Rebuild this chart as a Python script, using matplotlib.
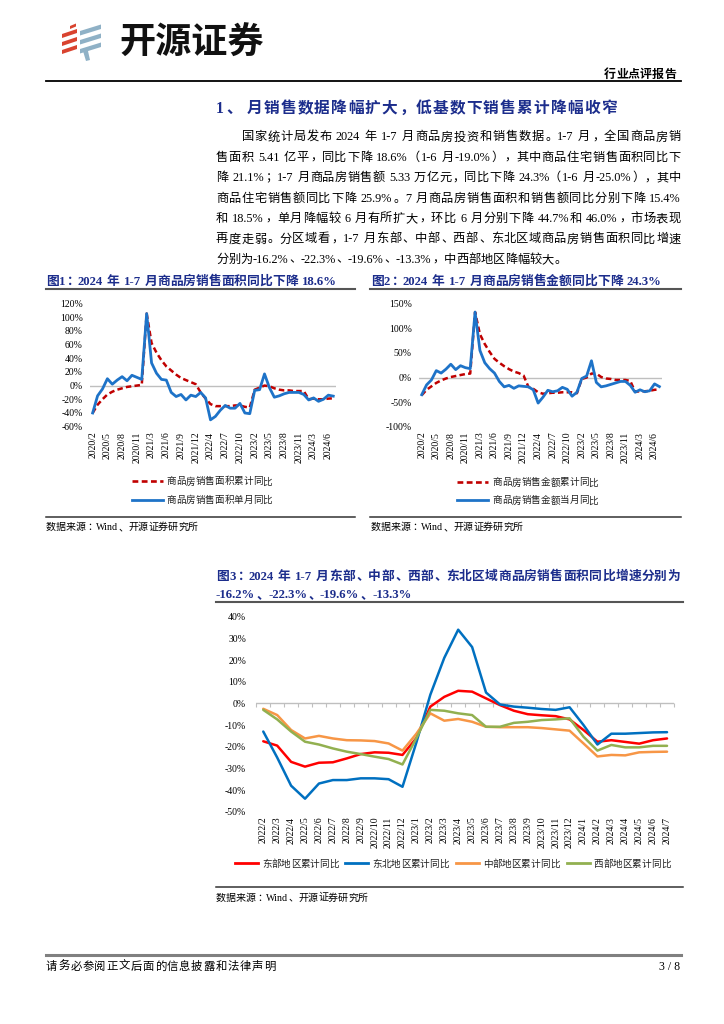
import re
import matplotlib
matplotlib.use('Agg')
import matplotlib.pyplot as plt
from matplotlib.lines import Line2D
from matplotlib.patches import Polygon

FAM = ['Liberation Serif', 'Noto Sans CJK SC']
plt.rcParams['font.family'] = FAM
NAVY = '#1c2d8c'
W, H = 724, 1024

# ---- data -------------------------------------------------------------
months1 = [f'{y}/{m}' for y in range(2020, 2025) for m in range(2, 13)][:50]

area_cum = [-40, -28, -20, -13, -9, -6, -4, -2, -1, 0, 1,
            105, 62, 48, 37, 28, 22, 16, 11, 8, 5, 2,
            -10, -19, -27, -30, -30, -30, -30, -29, -29, -31, -32,
            -6, -3, 0, -1, -4, -6, -7, -7, -8, -8, -8,
            -20, -19, -20, -20, -19, -18.6]
area_month = [-40, -15, -5, 10, 2, 8, 13, 7, 15, 12, 9,
              105, 33, 18, 9, 8, -10, -16, -13, -21, -14, -16,
              -10, -18, -50, -45, -36, -29, -33, -33, -26, -40, -41,
              -7, -6, 17, -3, -17, -15, -12, -10, -10, -10, -13,
              -21, -18, -23, -20, -14, -15.4]

value_cum = [-36, -25, -18, -11, -6, -2, 1, 3, 5, 7, 8,
             133, 88, 68, 52, 38, 30, 23, 17, 12, 9, 4,
             -19, -23, -30, -33, -32, -31, -31, -30, -30, -30, -32,
             -3, 0, 8, 8, 1, -2, -3, -5, -5, -5, -7,
             -29, -28, -28, -27, -25, -24.3]
value_month = [-35, -15, -5, 14, 9, 17, 27, 16, 24, 20, 18,
               133, 55, 30, 18, 9, -8, -19, -16, -22, -17, -18,
               -19, -25, -52, -40, -26, -29, -27, -20, -24, -38, -30,
               -2, 3, 34, -10, -19, -17, -14, -11, -8, -8, -16,
               -30, -25, -29, -27, -13, -18.5]

months3 = [f'{y}/{m}' for y in range(2022, 2025) for m in range(1, 13)][1:31]
east = [-17.5, -19.5, -27, -29.2, -27.4, -27.2, -25.4, -23.4, -22.6, -22.8,
        -23.8, -16, -1.5, 3, 5.8, 5.4, 2.3, -0.8, -3.4, -5,
        -5.5, -5.9, -7.4, -12.3, -17.7, -17, -17.8, -18.6, -17, -16.2]
northeast = [-13, -25, -38, -44, -37, -35.4, -35.4, -34.6, -34.6, -35,
             -38.5, -18, 4, 21, 34, 26, 5, -0.5, -1.5, -2,
             -2.6, -3, -1.8, -10, -19, -14, -14, -13.7, -13.4, -13.3]
central = [-2.5, -5.4, -12.3, -16.2, -15, -16.2, -17, -17.1, -17.4, -18.5,
           -21.8, -14, -4.6, -8, -7.2, -8.5, -10.8, -11, -11, -11,
           -11.4, -12, -12.6, -18.5, -24.5, -23.8, -24, -22.6, -22.4, -22.3]
west = [-3, -7.4, -13, -17.7, -19, -20.8, -22.3, -23.4, -24.6, -25.7,
        -28.2, -16, -3, -3.4, -4.6, -5.4, -10.8, -10.8, -9, -8.5,
        -7.7, -7.4, -6.9, -15.4, -21.8, -19.2, -20.3, -20.3, -19.6, -19.6]

para = [
    '国家统计局发布 2024 年 1-7 月商品房投资和销售数据。1-7 月，全国商品房销',
    '售面积 5.41 亿平，同比下降 18.6%（1-6 月-19.0%），其中商品住宅销售面积同比下',
    '降 21.1%；1-7 月商品房销售额 5.33 万亿元，同比下降 24.3%（1-6 月-25.0%），其中',
    '商品住宅销售额同比下降 25.9%。7 月商品房销售面积和销售额同比分别下降 15.4%',
    '和 18.5%，单月降幅较 6 月有所扩大，环比 6 月分别下降 44.7%和 46.0%，市场表现',
    '再度走弱。分区域看，1-7 月东部、中部、西部、东北区域商品房销售面积同比增速',
    '分别为-16.2%、-22.3%、-19.6%、-13.3%，中西部地区降幅较大。',
]

# ---- helpers ----------------------------------------------------------
fig = plt.figure(figsize=(7.24, 10.24), dpi=100)
renderer = fig.canvas.get_renderer()


def fx(x):
    return x / W


def fy(y):
    return 1 - y / H


def box(x0, y0, x1, y1):
    return [x0 / W, 1 - y1 / H, (x1 - x0) / W, (y1 - y0) / H]


def hline(y, x0, x1, lw=1.0, color='black', **kw):
    fig.add_artist(Line2D([fx(x0), fx(x1)], [fy(y), fy(y)], lw=lw, color=color,
                          transform=fig.transFigure, **kw))


def put_line(s, y, x0, x1=None, fs=8.8, weight='normal', color='black'):
    """write one line token by token, stretched to x1 if given"""
    em = fs * 100 / 72
    items = []
    for t in re.findall(r'[!-~]+| |.', s):
        if t == ' ':
            items.append((None, em * 0.3, None))
            continue
        txt = fig.text(0, 0, t, fontsize=fs, weight=weight, color=color,
                       va='baseline')
        if ord(t[0]) < 128:
            items.append((txt, txt.get_window_extent(renderer).width, 'l'))
        elif t in '，。、；：）':
            items.append((txt, em, 'l'))
        elif t == '（':
            items.append((txt, em, 'r'))
        else:
            items.append((txt, em, 'c'))
    nvis = sum(1 for it in items if it[0] is not None)
    total = sum(it[1] for it in items)
    gap = 0
    if x1 is not None and nvis > 1:
        gap = (x1 - x0 - total) / (nvis - 1)
    base = fy(y + 0.36 * em)
    x = x0
    for txt, w, al in items:
        if txt is None:
            x += w
            continue
        if al == 'l':
            txt.set_ha('left')
            txt.set_position((fx(x + (0.08 * em if w == em else 0)), base))
        elif al == 'r':
            txt.set_ha('right')
            txt.set_position((fx(x + w - 0.08 * em), base))
        else:
            txt.set_ha('center')
            txt.set_position((fx(x + w / 2), base))
        x += w + gap


def style_axes(ax, ylo, yhi, step, ypad):
    for sp in ax.spines.values():
        sp.set_visible(False)
    ax.set_ylim(ylo, yhi)
    ticks = list(range(ylo, yhi + 1, step))
    ax.set_yticks(ticks)
    ax.set_yticklabels([f'{v}%' for v in ticks])
    ax.tick_params(axis='y', length=0, labelsize=7, pad=ypad)
    ax.tick_params(axis='x', length=0, labelsize=7, pad=3.6)
    ax.axhline(0, color='#BFBFBF', lw=1, zorder=0)
    ax.patch.set_alpha(0)


# ---- header -----------------------------------------------------------
logo = fig.add_axes(box(58, 20, 106, 64))
logo.set_xlim(58, 106)
logo.set_ylim(64, 20)
logo.axis('off')


def bar(xa, ya, xb, yb, t, c):
    logo.add_patch(Polygon([(xa, ya), (xb, yb), (xb, yb + t), (xa, ya + t)],
                           closed=True, color=c, lw=0))


red, grey = '#D9432F', '#8FB1C6'
bar(70, 26, 76, 23.5, 3, red)
bar(62, 34, 77, 29, 4, red)
bar(62, 42, 77, 37, 4, red)
bar(62, 50, 77, 45, 4, red)
bar(80, 31, 101, 24.5, 4.5, grey)
bar(80, 40, 101, 33.5, 4.5, grey)
bar(80, 49, 101, 42.5, 4.5, grey)
logo.add_patch(Polygon([(83, 51), (88, 51), (90, 60), (86, 61)], closed=True,
                       color=grey, lw=0))

fig.text(fx(119), fy(43), '开源证券', fontsize=26, weight='bold', color='#111111',
         family=['Noto Sans CJK SC'], va='center', ha='left')
put_line('行业点评报告', 73.5, 604, 676, fs=8.6, weight='bold')
hline(81, 46, 681, lw=1.3)

# ---- section heading and paragraph -------------------------------------
put_line('1、 月销售数据降幅扩大，低基数下销售累计降幅收窄', 107, 216, 617,
         fs=11.3, weight='bold', color=NAVY)
for i, s in enumerate(para):
    x0 = 241.5 if i == 0 else 216
    x1 = None if i == len(para) - 1 else 681
    put_line(s, 136 + 20.4 * i, x0, x1, fs=8.8)

# ---- figure 1 ---------------------------------------------------------
put_line('图1：2024 年 1-7 月商品房销售面积同比下降 18.6%', 280, 46, None,
         fs=9.2, weight='bold', color=NAVY)
hline(289, 46, 355, lw=1.5, color='#555555')
ax1 = fig.add_axes(box(90.2, 303.3, 335.7, 426.7))
x1 = list(range(len(months1)))
ax1.plot(x1, area_cum, color='#C00000', lw=1.8, dashes=(2.2, 1.3))
ax1.plot(x1, area_month, color='#1E73C8', lw=2.0, solid_joinstyle='round')
ax1.set_xlim(-0.5, len(months1) - 0.5)
style_axes(ax1, -60, 120, 20, 5.4)
ax1.set_xticks(x1[::3])
ax1.set_xticklabels(months1[::3], rotation=90)

hline(481, 131.7, 163.3, lw=1.9, color='#C00000', dashes=(2.2, 1.3))
put_line('商品房销售面积累计同比', 481, 166.7, fs=6.9, color='#222222')
hline(499.5, 131.7, 163.3, lw=2.0, color='#1E73C8')
put_line('商品房销售面积单月同比', 499.5, 166.7, fs=6.9, color='#222222')
hline(516.7, 46, 355, lw=1.1, color='#333333')
put_line('数据来源：Wind、开源证券研究所', 526.5, 46, fs=7.2)

# ---- figure 2 ---------------------------------------------------------
put_line('图2：2024 年 1-7 月商品房销售金额同比下降 24.3%', 280, 371, None,
         fs=9.2, weight='bold', color=NAVY)
hline(289, 370, 681, lw=1.5, color='#555555')
ax2 = fig.add_axes(box(419.3, 303.7, 661.8, 426.7))
ax2.plot(x1, value_cum, color='#C00000', lw=1.8, dashes=(2.2, 1.3))
ax2.plot(x1, value_month, color='#1E73C8', lw=2.0, solid_joinstyle='round')
ax2.set_xlim(-0.5, len(months1) - 0.5)
style_axes(ax2, -100, 150, 50, 5.5)
ax2.set_xticks(x1[::3])
ax2.set_xticklabels(months1[::3], rotation=90)

hline(482, 456.7, 488.3, lw=1.9, color='#C00000', dashes=(2.2, 1.3))
put_line('商品房销售金额累计同比', 482, 492.7, fs=6.9, color='#222222')
hline(500, 456.7, 488.3, lw=2.0, color='#1E73C8')
put_line('商品房销售金额当月同比', 500, 492.7, fs=6.9, color='#222222')
hline(516.7, 370, 681, lw=1.1, color='#333333')
put_line('数据来源：Wind、开源证券研究所', 526.5, 371, fs=7.2)

# ---- figure 3 ---------------------------------------------------------
put_line('图3：2024 年 1-7 月东部、中部、西部、东北区域商品房销售面积同比增速分别为',
         575, 216, 680, fs=9.2, weight='bold', color=NAVY)
put_line('-16.2%、-22.3%、-19.6%、-13.3%', 593.3, 216, None, fs=9.2,
         weight='bold', color=NAVY)
hline(602, 216, 683, lw=1.5, color='#555555')

ax3 = fig.add_axes(box(256.3, 616.7, 674, 811.7))
x3 = list(range(len(months3)))
series3 = [(east, '#FF0000', '东部地区累计同比'),
           (northeast, '#0070C0', '东北地区累计同比'),
           (central, '#F79646', '中部地区累计同比'),
           (west, '#92B050', '西部地区累计同比')]
for vals, col, _ in series3:
    ax3.plot(x3, vals, color=col, lw=1.8, solid_joinstyle='round',
             solid_capstyle='round')
ax3.set_xlim(-0.5, len(months3) - 0.5)
style_axes(ax3, -50, 40, 10, 7.4)
ax3.set_xticks(x3)
ax3.set_xticklabels(months3, rotation=90)
sec = ax3.secondary_xaxis(50 / 90)
sec.set_xticks([v - 0.5 for v in x3] + [x3[-1] + 0.5])
sec.tick_params(direction='in', length=3, color='#BFBFBF', labeltop=False,
                labelbottom=False)
for sp in sec.spines.values():
    sp.set_visible(False)

leg_x = [235, 345, 455.7, 566.7]
for (vals, col, name), lx in zip(series3, leg_x):
    hline(863.3, lx, lx + 23.3, lw=2.0, color=col)
    put_line(name, 863.3, lx + 27, fs=6.9, color='#222222')
hline(886.7, 216, 683, lw=1.1, color='#333333')
put_line('数据来源：Wind、开源证券研究所', 897, 216, fs=7.2)

# ---- footer -----------------------------------------------------------
hline(955, 46, 681, lw=2.2, color='#808080')
put_line('请务必参阅正文后面的信息披露和法律声明', 965.5, 46, 275, fs=8.2)
fig.text(fx(680), fy(965.5 + 4), '3 / 8', fontsize=8.5, ha='right', va='baseline')

fig.savefig('out.png', dpi=100)
